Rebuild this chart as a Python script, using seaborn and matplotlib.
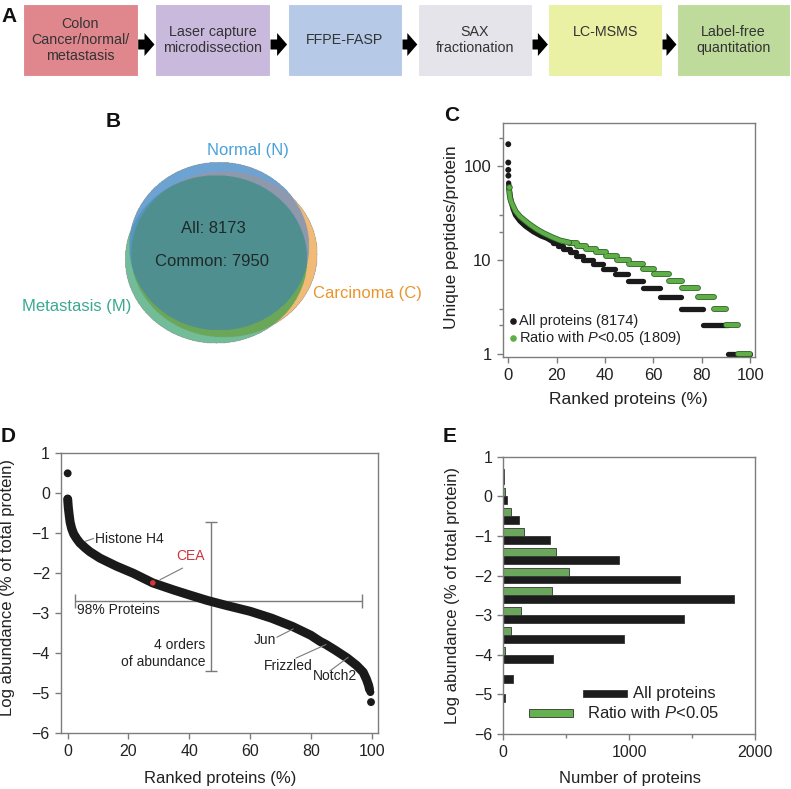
import numpy as np
import pandas as pd
import matplotlib
matplotlib.use("Agg")
import matplotlib.pyplot as plt
import seaborn as sns
from matplotlib.patches import Rectangle, FancyArrow
from matplotlib.colors import to_rgba
import matplotlib.patheffects as pe
from matplotlib.ticker import FixedLocator, NullFormatter

# ---------------- data ----------------
# Panel A: workflow
workflow_steps = ["Colon\nCancer/normal/\nmetastasis", "Laser capture\nmicrodissection",
                  "FFPE-FASP", "SAX\nfractionation", "LC-MSMS", "Label-free\nquantitation"]
workflow_colors = ["#e0878e", "#c9b9dc", "#b6cae8", "#e4e4ea", "#eaf0a4", "#bedb9c"]

# Panel B: Venn
venn_labels = ["Normal (N)", "Metastasis (M)", "Carcinoma (C)"]
venn_all = 8173
venn_common = 7950

# Panel C: unique peptides per protein (plateaus of integer peptide counts)
peptide_counts = [15, 14, 13, 12, 11, 10, 9, 8, 7, 6, 5, 4, 3, 2, 1]
all_start = [18.6, 20.7, 22.8, 25.5, 28.0, 31.0, 35.0, 39.3, 44.1, 49.7, 55.6, 62.8, 71.3, 80.4, 91.0]
all_end = [20.7, 22.8, 25.5, 28.0, 31.0, 35.0, 39.3, 44.1, 49.7, 55.6, 62.8, 71.3, 80.4, 91.0, 100.0]
sig_start = [25.2, 28.4, 32.0, 36.1, 40.3, 45.1, 50.0, 55.5, 60.4, 66.5, 72.0, 78.6, 85.0, 90.0, 94.8]
sig_end = [28.4, 32.0, 36.1, 40.3, 45.1, 50.0, 55.5, 60.4, 66.5, 72.0, 78.6, 85.0, 90.0, 94.8, 100.0]
all_head_rank = [0.15, 0.3, 0.5, 0.8, 1.2, 2.0, 3.0, 4.8, 7.0, 10.3, 13.5, 16.0, 18.6]
all_head_pep = [66, 60, 54, 48, 42, 35, 30, 26, 23, 20, 18, 17, 15.5]
all_top_rank = [0.0, 0.0, 0.0, 0.05]
all_top_pep = [171, 109, 91, 79]
sig_head_rank = [0.3, 0.5, 0.8, 1.3, 2.1, 3.0, 4.8, 7.0, 9.0, 12.0, 14.5, 18.0, 21.4, 25.2]
sig_head_pep = [58, 51, 45, 41, 37, 33, 29, 26, 23.7, 21, 19.3, 17.5, 16.1, 15.3]

# Panel D: ranked log abundance
rank_pct = [0, 0.2, 0.5, 0.8, 1.3, 2, 3, 4, 5.7, 7.3, 10.6, 16, 21.6, 28, 35, 40, 46, 52,
            60, 67, 74, 80, 83, 85, 88, 92, 95, 97.2, 98.3, 99, 99.3]
log_abund = [-0.15, -0.35, -0.55, -0.72, -0.88, -1.02, -1.14, -1.24, -1.36, -1.46, -1.62, -1.82,
             -2.0, -2.24, -2.42, -2.54, -2.68, -2.8, -2.95, -3.12, -3.33, -3.55, -3.7, -3.78,
             -3.92, -4.12, -4.3, -4.47, -4.65, -4.8, -4.9]
outlier_rank = [0.0, 0.0, 99.6, 99.8]
outlier_abund = [0.5, -0.13, -4.97, -5.22]
cea_rank, cea_abund = [28.0], [-2.24]

# Panel E: histogram of abundance
abundance_bins = [0.5, 0.0, -0.5, -1.0, -1.5, -2.0, -2.5, -3.0, -3.5, -4.0, -4.5, -5.0]
all_counts = [5, 27, 125, 372, 922, 1402, 1833, 1434, 961, 398, 80, 16]
sig_counts = [2, 16, 61, 168, 418, 526, 388, 138, 61, 16, 0, 0]

# ---------------- style ----------------
sns.set_style("ticks")
plt.rcParams["font.family"] = ["Liberation Sans", "DejaVu Sans"]
plt.rcParams["mathtext.fontset"] = "custom"
plt.rcParams["mathtext.rm"] = "Liberation Sans"
plt.rcParams["mathtext.it"] = "Liberation Sans:italic"
GRAY = "#7d7d7d"
TXT = "#222222"

fig = plt.figure(figsize=(7.91, 7.89), dpi=100)
W, H = 791.0, 789.0


def px_axes(l, r, t, b):
    return fig.add_axes([l / W, (H - b) / H, (r - l) / W, (b - t) / H])


def style_axes(ax, size=11):
    for s in ax.spines.values():
        s.set_color(GRAY)
        s.set_linewidth(1.0)
        s.set_visible(True)
    ax.tick_params(which="both", direction="out", color=GRAY, width=1.0,
                   labelcolor=TXT, labelsize=size, top=False, right=False)
    ax.tick_params(which="major", length=4.5)
    ax.tick_params(which="minor", length=3)


# overlay axes in pixel coordinates
ax0 = fig.add_axes([0, 0, 1, 1])
ax0.set_xlim(0, W)
ax0.set_ylim(H, 0)
ax0.axis("off")

# ---- Panel A ----
box_l = [22.7, 155, 287.6, 417.8, 548.4, 677]
box_r = [137.7, 270, 402, 532, 662, 790]
box_t, box_b = 4, 76
text_y = [40, 40, 40, 40, 32, 40]
for i, (lab, col) in enumerate(zip(workflow_steps, workflow_colors)):
    ax0.add_patch(Rectangle((box_l[i], box_t), box_r[i] - box_l[i], box_b - box_t,
                            facecolor=col, edgecolor="white", lw=0.8))
    ax0.text((box_l[i] + box_r[i]) / 2, text_y[i], lab, ha="center", va="center",
             fontsize=10.3, color="#333333", linespacing=1.2)
for i in range(5):
    x0 = box_r[i] + 0.5
    x1 = box_l[i + 1] - 0.5
    ax0.add_patch(FancyArrow(x0, 44.5, x1 - x0, 0, width=10, head_width=23, head_length=10,
                             length_includes_head=True, color="black", lw=0))

# ---- Panel B: Venn ----
xs = np.arange(100, 340, 0.5)
ys = np.arange(150, 355, 0.5)
X, Y = np.meshgrid(xs, ys)


def inside(cx, cy, a, b):
    return ((X - cx) / a) ** 2 + ((Y - cy) / b) ** 2 <= 1.0


inN = inside(219, 246, 90, 84)
inM = inside(216, 259, 91, 84)
inC = inside(224, 254, 93, 83)
region_cols = {
    (1, 0, 0): "#6da3d4", (0, 1, 0): "#72bc9a", (0, 0, 1): "#f1bb76",
    (1, 1, 0): "#5896bb", (1, 0, 1): "#8f9aae", (0, 1, 1): "#6ba758",
    (1, 1, 1): "#508f8f",
}
img = np.zeros(X.shape + (4,))
for (n, m, c), col in region_cols.items():
    mask = (inN == bool(n)) & (inM == bool(m)) & (inC == bool(c))
    img[mask] = to_rgba(col)
ax0.imshow(img, extent=(xs[0] - 0.25, xs[-1] + 0.25, ys[-1] + 0.25, ys[0] - 0.25),
           interpolation="antialiased", aspect="auto", zorder=1)
ax0.set_xlim(0, W)
ax0.set_ylim(H, 0)
ax0.text(247.8, 150, venn_labels[0], color="#4aa2db", fontsize=12, ha="center", va="center")
ax0.text(131.7, 306.7, venn_labels[1], color="#3aa893", fontsize=12, ha="right", va="center")
ax0.text(312.7, 293.3, venn_labels[2], color="#e8952f", fontsize=12, ha="left", va="center")
ax0.text(213.7, 228.3, f"All: {venn_all}", color="#1e2a2a", fontsize=12, ha="center", va="center", zorder=3)
ax0.text(211.7, 261.7, f"Common: {venn_common}", color="#1e2a2a", fontsize=12, ha="center", va="center", zorder=3)

# panel letters
for lab, (x, y) in zip("ABCDE", [(9, 16), (113.3, 121.7), (451.7, 115), (8.3, 436.7), (450, 436)]):
    ax0.text(x, y, lab, fontsize=15, fontweight="bold", ha="center", va="center", color="#111111")

# ---- Panel C ----
axC = px_axes(502.7, 755, 122.7, 357)
axC.set_yscale("log")
style_axes(axC, size=12)
BLACK = "#1a1a1a"
GREEN = "#5fae48"
GEDGE = "#2c6526"
lc = axC.hlines(peptide_counts, all_start, all_end, color=BLACK, lw=3.8, zorder=2)
lc.set_capstyle("round")
sns.lineplot(x=all_head_rank, y=all_head_pep, color=BLACK, lw=3.8, estimator=None, sort=False,
             ax=axC, solid_capstyle="round", zorder=2)
sns.scatterplot(x=all_top_rank, y=all_top_pep, color=BLACK, s=18, edgecolor="none", ax=axC, zorder=2)
gstroke = [pe.Stroke(linewidth=4.2, foreground=GEDGE, capstyle="round"), pe.Normal()]
lg = axC.hlines(peptide_counts, sig_start, sig_end, color=GREEN, lw=3.0, zorder=3, path_effects=gstroke)
lg.set_capstyle("round")
sns.lineplot(x=sig_head_rank, y=sig_head_pep, color=GREEN, lw=3.0, estimator=None, sort=False,
             ax=axC, solid_capstyle="round", zorder=3, path_effects=gstroke)
sns.scatterplot(x=[0.2], y=[60], color=GREEN, s=16, edgecolor=GEDGE, linewidth=0.6, ax=axC, zorder=3)
axC.set_xlim(-2.3, 102)
axC.set_ylim(0.92, 290)
axC.set_xticks([0, 20, 40, 60, 80, 100])
axC.set_yticks([1, 10, 100])
axC.set_yticklabels(["1", "10", "100"])
axC.yaxis.set_minor_locator(FixedLocator([2, 3, 20, 30, 200]))
axC.yaxis.set_minor_formatter(NullFormatter())
axC.set_xlabel("Ranked proteins (%)", fontsize=12.5, color=TXT)
axC.set_ylabel("Unique peptides/protein", fontsize=12.5, color=TXT)
axC.yaxis.set_label_coords(-0.175, 0.51)
axC.xaxis.set_label_coords(0.5, -0.15)
axC.scatter([0.042], [0.155], transform=axC.transAxes, s=14, color=BLACK, zorder=4)
axC.scatter([0.042], [0.082], transform=axC.transAxes, s=14, color=GREEN, zorder=4)
axC.text(0.063, 0.155, "All proteins (8174)", transform=axC.transAxes, fontsize=10.5,
         va="center", color=TXT)
axC.text(0.063, 0.082, r"Ratio with $\it{P}$<0.05 (1809)", transform=axC.transAxes, fontsize=10.5,
         va="center", color=TXT)

# ---- Panel D ----
axD = px_axes(61, 377.7, 453.3, 733.3)
style_axes(axD, size=11.5)
sns.lineplot(x=rank_pct, y=log_abund, color=BLACK, lw=6.5, estimator=None, sort=False,
             ax=axD, solid_capstyle="round", zorder=2)
sns.scatterplot(x=outlier_rank, y=outlier_abund, color=BLACK, s=32, edgecolor="none", ax=axD, zorder=2)
sns.scatterplot(x=cea_rank, y=cea_abund, color="#d8343c", s=16, edgecolor="none", ax=axD, zorder=3)
LG = "#7a7a7a"
axD.errorbar([47.0], [-2.575], yerr=[1.855], color=LG, lw=1.0, capsize=4, capthick=1.0, zorder=1)
axD.errorbar([49.55], [-2.68], xerr=[47.15], color=LG, lw=1.0, capsize=5, capthick=1.0, zorder=1)
axD.text(3.0, -2.93, "98% Proteins", fontsize=10, color=TXT, ha="left", va="center")
axD.text(45.2, -4.0, "4 orders\nof abundance", fontsize=10, color=TXT, ha="right", va="center",
         multialignment="right", linespacing=1.25)
axD.plot([5.8, 8.5], [-1.2, -1.13], color=LG, lw=0.8)
axD.text(9.0, -1.15, "Histone H4", fontsize=10, color=TXT, ha="left", va="center")
axD.plot([30.4, 37.8], [-2.16, -1.87], color=LG, lw=0.8)
axD.text(40.4, -1.57, "CEA", fontsize=10, color="#d0343c", ha="center", va="center")
axD.plot([68.8, 74.2], [-3.6, -3.39], color=LG, lw=0.8)
axD.text(64.9, -3.66, "Jun", fontsize=10, color=TXT, ha="center", va="center")
axD.plot([75.1, 85.0], [-4.12, -3.78], color=LG, lw=0.8)
axD.text(72.7, -4.31, "Frizzled", fontsize=10, color=TXT, ha="center", va="center")
axD.plot([86.3, 92.3], [-4.44, -4.1], color=LG, lw=0.8)
axD.text(87.9, -4.58, "Notch2", fontsize=10, color=TXT, ha="center", va="center")
axD.set_xlim(-2.2, 102)
axD.set_ylim(-6, 1)
axD.set_xticks([0, 20, 40, 60, 80, 100])
axD.set_yticks(list(range(-6, 2)))
axD.set_xlabel("Ranked proteins (%)", fontsize=12, color=TXT)
axD.set_ylabel("Log abundance (% of total protein)", fontsize=12, color=TXT)
axD.yaxis.set_label_coords(-0.145, 0.52)
axD.xaxis.set_label_coords(0.502, -0.135)

# ---- Panel E ----
axE = px_axes(503.3, 755, 456.7, 734)
dfE = pd.DataFrame({
    "bin": abundance_bins * 2,
    "count": all_counts + sig_counts,
    "series": ["All proteins"] * len(all_counts) + ["Ratio with P<0.05"] * len(sig_counts),
})
sns.barplot(data=dfE, y="bin", x="count", hue="series",
            hue_order=["All proteins", "Ratio with P<0.05"],
            palette={"All proteins": "#1c1c1c", "Ratio with P<0.05": "#63b24f"},
            orient="h", native_scale=True, width=0.8, dodge=True,
            edgecolor="#333333", linewidth=0.6, legend=False, ax=axE)
axE.set_xlim(0, 2000)
axE.set_ylim(-6, 1)
axE.set_xticks([0, 1000, 2000])
axE.xaxis.set_minor_locator(FixedLocator([500, 1500]))
axE.set_yticks(list(range(-6, 2)))
style_axes(axE, size=11.5)
axE.add_patch(Rectangle((630, -5.07), 350, 0.18, facecolor="#1c1c1c", edgecolor="#333333", lw=0.6))
axE.add_patch(Rectangle((205, -5.58), 345, 0.2, facecolor="#63b24f", edgecolor="#333333", lw=0.6))
axE.text(1030, -4.98, "All proteins", fontsize=12, color=TXT, va="center")
axE.text(665, -5.47, r"Ratio with $\it{P}$<0.05", fontsize=12, color=TXT, va="center")
axE.set_xlabel("Number of proteins", fontsize=12, color=TXT)
axE.set_ylabel("Log abundance (% of total protein)", fontsize=12, color=TXT)
axE.yaxis.set_label_coords(-0.172, 0.5)
axE.xaxis.set_label_coords(0.503, -0.133)

fig.savefig("out.png", dpi=100)
